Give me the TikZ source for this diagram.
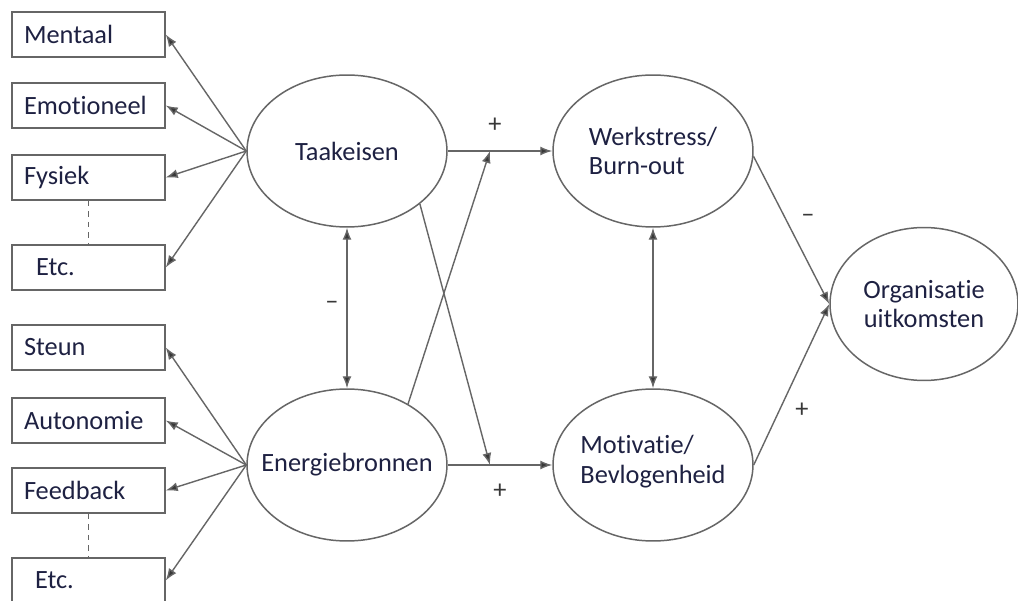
\documentclass[tikz,border=0pt]{standalone}
\usepackage{fontspec}
\setmainfont[Ligatures=NoCommon]{Carlito}
\usepackage{tikz}
\usetikzlibrary{shapes.geometric}
\usetikzlibrary{arrows.meta}

\definecolor{inkt}{HTML}{1E2142}
\definecolor{lijn}{HTML}{666666}
\definecolor{punt}{HTML}{383838}

\tikzset{
  factor/.style={draw=lijn, line width=0.85pt, rectangle, minimum width=3.06cm, minimum height=0.9cm,
    text width=2.58cm, inner xsep=0.24cm, align=left, text=inkt, font=\fontsize{15}{17}\selectfont},
  construct/.style={draw=lijn, line width=0.85pt, ellipse, minimum width=4cm, minimum height=3.04cm, inner sep=0pt},
  tekst/.style={text=inkt, align=left, font=\fontsize{15}{17}\selectfont},
  teken/.style={text=punt, font=\fontsize{15}{17}\selectfont},
  pijl/.style={->, draw=lijn, line width=0.8pt}
}

\begin{document}
\begin{tikzpicture}[x=0.02cm, y=-0.02cm, >={Latex[length=2.4mm,width=1.8mm,fill=punt]}]
            \useasboundingbox (0,0) rectangle (1018,601);
            \fill[white] (0,0) rectangle (1018,601);

            \node[factor] (ment) at (88.5,34.5) {Mentaal};
            \node[factor] (emo) at (88.5,105.5) {Emotioneel};
            \node[factor] (fys) at (88.5,177.5) {Fysiek};
            \node[factor] (etca) at (88.5,267.5) {\hspace*{0.24cm}Etc.};
            \node[factor] (steun) at (88.5,347.5) {Steun};
            \node[factor] (auto) at (88.5,420.5) {Autonomie};
            \node[factor] (feed) at (88.5,490.5) {Feedback};
            \node[factor] (etcb) at (88.5,580.5) {\hspace*{0.22cm}Etc.};

            \node[construct, label={[tekst]center:Taakeisen}] (taak) at (347,151) {};
            \node[construct, label={[tekst]center:Energiebronnen}] (enbr) at (347,465) {};
            \node[construct, label={[tekst]center:Werkstress/\\Burn-out}] (werk) at (653,151) {};
            \node[construct, label={[tekst, yshift=0.06cm]center:Motivatie/\\Bevlogenheid}] (motiv) at (653,465) {};
            \node[construct, minimum width=3.76cm, minimum height=3.06cm,
                  label={[tekst, align=center]center:Organisatie\\uitkomsten}] (org) at (924,304) {};

            \draw[dashed, lijn, line width=0.8pt] (fys.south) -- (etca.north);
            \draw[dashed, lijn, line width=0.8pt] (feed.south) -- (etcb.north);

            \foreach \b in {ment,emo,fys,etca}
                \draw[pijl] (taak.west) -- (\b.east);
            \foreach \b in {steun,auto,feed,etcb}
                \draw[pijl] (enbr.west) -- (\b.east);

            \coordinate (kruisA) at (490,151);
            \coordinate (kruisB) at (490,465);

            \draw[pijl] (taak.east) -- (werk.west);
            \draw[pijl] (enbr.east) -- (motiv.west);
            \draw[pijl] (enbr.45) -- (kruisA);
            \draw[pijl] (taak.-36) -- (kruisB);
            \draw[pijl, <->] (taak.south) -- (enbr.north);
            \draw[pijl, <->] (werk.south) -- (motiv.north);
            \draw[pijl] (werk.-3) -- (org.west);
            \draw[pijl] (motiv.east) -- (org.west);

            \node[teken] (plusA) at (495,125) {+};
            \node[teken] (plusB) at (500,491) {+};
            \node[teken] (minA) at (332,305) {–};
            \node[teken] (minB) at (808,218) {–};
            \node[teken] (plusC) at (802,410) {+};
        \end{tikzpicture}
\end{document}
